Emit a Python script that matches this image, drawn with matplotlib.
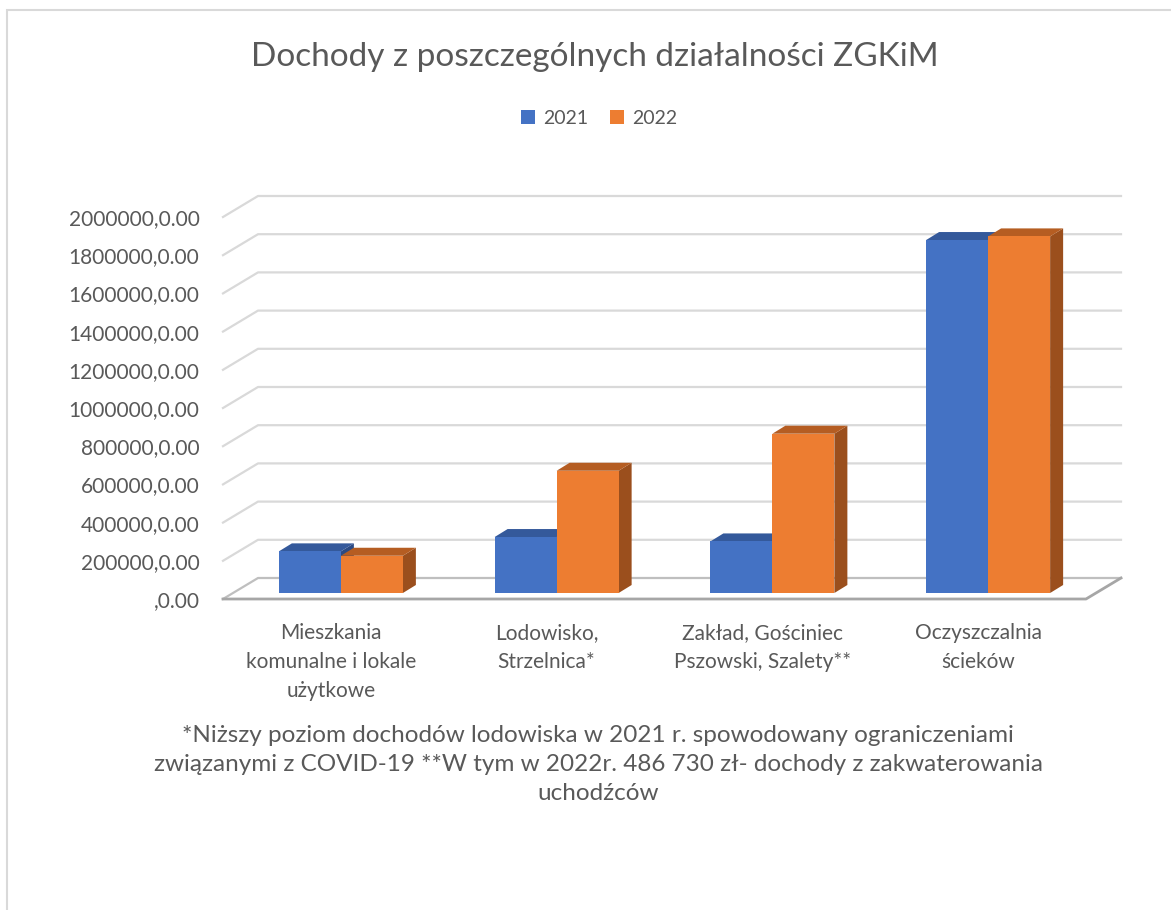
import matplotlib
matplotlib.use("Agg")
import matplotlib.pyplot as plt
from matplotlib.patches import Polygon, Rectangle

plt.rcParams["font.family"] = ["Lato", "DejaVu Sans"]

# data
categories = [
    "Mieszkania\nkomunalne i lokale\nużytkowe",
    "Lodowisko,\nStrzelnica*",
    "Zakład, Gościniec\nPszowski, Szalety**",
    "Oczyszczalnia\nścieków",
]
years = ["2021", "2022"]
values_2021 = [218000, 293000, 270000, 1848000]
values_2022 = [195000, 640000, 834000, 1867000]
y_ticks = [0, 200000, 400000, 600000, 800000, 1000000,
           1200000, 1400000, 1600000, 1800000, 2000000]
tick_labels = [f"{t},0.00" if t else ",0.00" for t in y_ticks]
title = "Dochody z poszczególnych działalności ZGKiM"
note = ("*Niższy poziom dochodów lodowiska w 2021 r. spowodowany ograniczeniami\n"
        "związanymi z COVID-19 **W tym w 2022r. 486 730 zł- dochody z zakwaterowania\n"
        "uchodźców")

TXT = "#595959"
FRONT = ["#4472C4", "#ED7D31"]
TOP = ["#34599B", "#B55D22"]
SIDE = ["#2B4A83", "#9B4F1D"]

FW, FH = 1171, 910
fig = plt.figure(figsize=(FW / 100, FH / 100), dpi=100)

# axes = front edge of the 3d floor (pixels: left 223, floor 599, width 863, 2M at 217)
AX_W, AX_H = 863, 382
ax = fig.add_axes([223 / FW, 1 - 599 / FH, AX_W / FW, AX_H / FH])
ax.set_xlim(-0.5, 3.5)
ax.set_ylim(0, 2000000)
px = 4 / AX_W          # data units per pixel, x
py = 2000000 / AX_H    # data units per pixel, y

# depth offsets in pixels
WALL_DX, WALL_DY = 35, 21
BAR_DX, BAR_DY = 10, 6
DEPTH_DX, DEPTH_DY = 13, 8

# back wall gridlines + left diagonals
for t in y_ticks:
    col = "#BFBFBF" if t == 0 else "#D9D9D9"
    ax.plot([-0.5, -0.5 + WALL_DX * px, 3.5 + WALL_DX * px],
            [t, t + WALL_DY * py, t + WALL_DY * py],
            color=col, lw=1.6, clip_on=False, zorder=1)
# floor front edge + right side
ax.plot([-0.5, 3.5, 3.5 + WALL_DX * px], [0, 0, WALL_DY * py],
        color="#A6A6A6", lw=2, clip_on=False, zorder=1.5)

# bars
bw = 62 * px
base = BAR_DY * py
z = 3
handles = []
for i in range(len(categories)):
    for j, vals in enumerate([values_2021, values_2022]):
        v = vals[i]
        x0 = i - bw + j * bw + BAR_DX * px
        ddx, ddy = DEPTH_DX * px, DEPTH_DY * py
        side = [(x0 + bw, base), (x0 + bw + ddx, base + ddy),
                (x0 + bw + ddx, base + v + ddy), (x0 + bw, base + v)]
        top = [(x0, base + v), (x0 + bw, base + v),
               (x0 + bw + ddx, base + v + ddy), (x0 + ddx, base + v + ddy)]
        ax.add_patch(Polygon(side, closed=True, fc=SIDE[j], ec="none", zorder=z, clip_on=False))
        ax.add_patch(Polygon(top, closed=True, fc=TOP[j], ec="none", zorder=z + 0.1, clip_on=False))
        b = ax.bar(x0, v, width=bw, bottom=base, align="edge", color=FRONT[j],
                   zorder=z + 0.2, label=years[j] if i == 0 else None)
        if i == 0:
            handles.append(b)
        z += 1

for s in ax.spines.values():
    s.set_visible(False)
ax.patch.set_visible(False)

ax.set_yticks(y_ticks, tick_labels)
ax.set_xticks(range(len(categories)), categories)
ax.tick_params(axis="y", length=0, pad=17, labelsize=15, labelcolor=TXT)
ax.tick_params(axis="x", length=0, pad=17, labelsize=15, labelcolor=TXT)
for lbl in ax.get_xticklabels():
    lbl.set_linespacing(1.58)

fig.text(595 / FW, 1 - 57 / FH, title, ha="center", va="center",
         fontsize=24, color=TXT)

fig.legend(handles=handles, labels=years, loc="center",
           bbox_to_anchor=(599 / FW, 1 - 118 / FH), ncol=2, frameon=False,
           fontsize=14, labelcolor=TXT, handlelength=0.75, handleheight=0.75,
           handletextpad=0.4, columnspacing=1.1)

fig.text(598 / FW, 1 - 725 / FH, note, ha="center", va="top",
         fontsize=17.5, color=TXT, linespacing=1.48)

# chart border (only top and left edges are inside the picture)
fig.add_artist(Rectangle((7 / FW, -0.1), 1.2, 1.1 - 10 / FH, transform=fig.transFigure,
                         fill=False, ec="#D9D9D9", lw=1.5))

fig.savefig("out.png", dpi=100)
